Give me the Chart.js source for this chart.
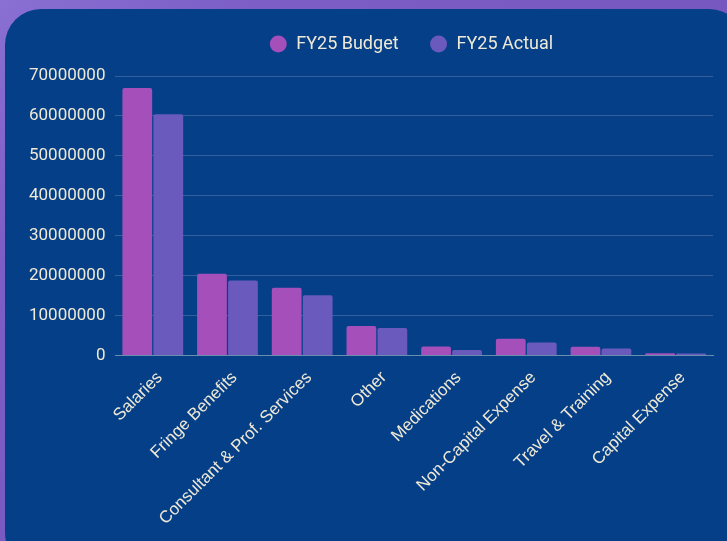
<!DOCTYPE html>
<html>
<head>
<meta charset="utf-8">
<script src="https://cdn.jsdelivr.net/npm/chart.js@4/dist/chart.umd.min.js"></script>
<style>
  html, body { margin: 0; padding: 0; }
  body {
    width: 727px; height: 541px; overflow: hidden; position: relative;
    background: linear-gradient(135deg, #8a70d2 0%, #7c5ec6 20%, #7657bf 60%, #7556bd 100%);
  }
  .panel {
    position: absolute; left: 5px; top: 9px; width: 740px; height: 560px;
    background: #053f88; border-radius: 36px;
  }
  .wrap { position: absolute; left: 0; top: 0; width: 727px; height: 541px; }
</style>
</head>
<body>
<div class="panel"></div>
<div class="wrap"><canvas id="budgetChart"></canvas></div>
<script>
const categories = ["Salaries", "Fringe Benefits", "Consultant & Prof. Services", "Other",
    "Medications", "Non-Capital Expense", "Travel & Training", "Capital Expense"];
const budgetFY25 = [67000000, 20500000, 17000000, 7400000, 2300000, 4200000, 2200000, 600000];
const actualFY25 = [60400000, 18800000, 15100000, 6900000, 1400000, 3300000, 1800000, 500000];
const seriesNames = ["FY25 Budget", "FY25 Actual"];
const yTicks = [0, 10000000, 20000000, 30000000, 40000000, 50000000, 60000000, 70000000];

const textColor = "#efe9d6";

// extra room under the legend, and nudge it into place
const legendTweak = {
    id: "legendTweak",
    afterInit(chart) {
        const legend = chart.legend;
        const fit = legend.fit;
        legend.fit = function () {
            fit.call(this);
            this.height += 17;
        };
    },
    afterLayout(chart) {
        chart.legend.top += 4;
        chart.legend.bottom += 4;
        chart.legend.left -= 3;
        chart.legend.right -= 3;
    }
};

document.addEventListener("DOMContentLoaded", () => {
    const ctx = document.getElementById("budgetChart").getContext("2d");

    new Chart(ctx, {
        type: "bar",
        data: {
            labels: categories,
            datasets: [{
                label: seriesNames[0],
                data: budgetFY25,
                backgroundColor: "#a44fba",
                borderRadius: 2,
                borderSkipped: "bottom",
                categoryPercentage: 0.83,
                barPercentage: 0.96
            }, {
                label: seriesNames[1],
                data: actualFY25,
                backgroundColor: "#6a5abd",
                borderRadius: 2,
                borderSkipped: "bottom",
                categoryPercentage: 0.83,
                barPercentage: 0.96
            }]
        },
        plugins: [legendTweak],
        options: {
            responsive: true,
            maintainAspectRatio: false,
            animation: false,
            layout: { padding: { top: 0, right: 14, bottom: 8, left: 19 } },
            plugins: {
                legend: {
                    position: "top",
                    fullSize: false,
                    labels: {
                        usePointStyle: true,
                        pointStyle: "circle",
                        boxHeight: 12,
                        padding: 31,
                        color: textColor,
                        font: { family: "Roboto", size: 18 }
                    }
                },
                tooltip: { enabled: false }
            },
            scales: {
                x: {
                    grid: { display: false },
                    border: { color: "#6a8fae", width: 1 },
                    ticks: {
                        color: textColor,
                        maxRotation: 45,
                        minRotation: 45,
                        padding: 4,
                        labelOffset: 7,
                        font: { family: "Liberation Sans", size: 17 }
                    }
                },
                y: {
                    min: 0,
                    max: 70000000,
                    afterBuildTicks: axis => { axis.ticks = yTicks.map(v => ({ value: v })); },
                    grid: { color: "#33609c", lineWidth: 1, drawTicks: false },
                    border: { display: false },
                    ticks: {
                        color: textColor,
                        padding: 10,
                        font: { family: "Roboto", size: 17 },
                        callback: v => String(v)
                    }
                }
            }
        }
    });
});
</script>
</body>
</html>
